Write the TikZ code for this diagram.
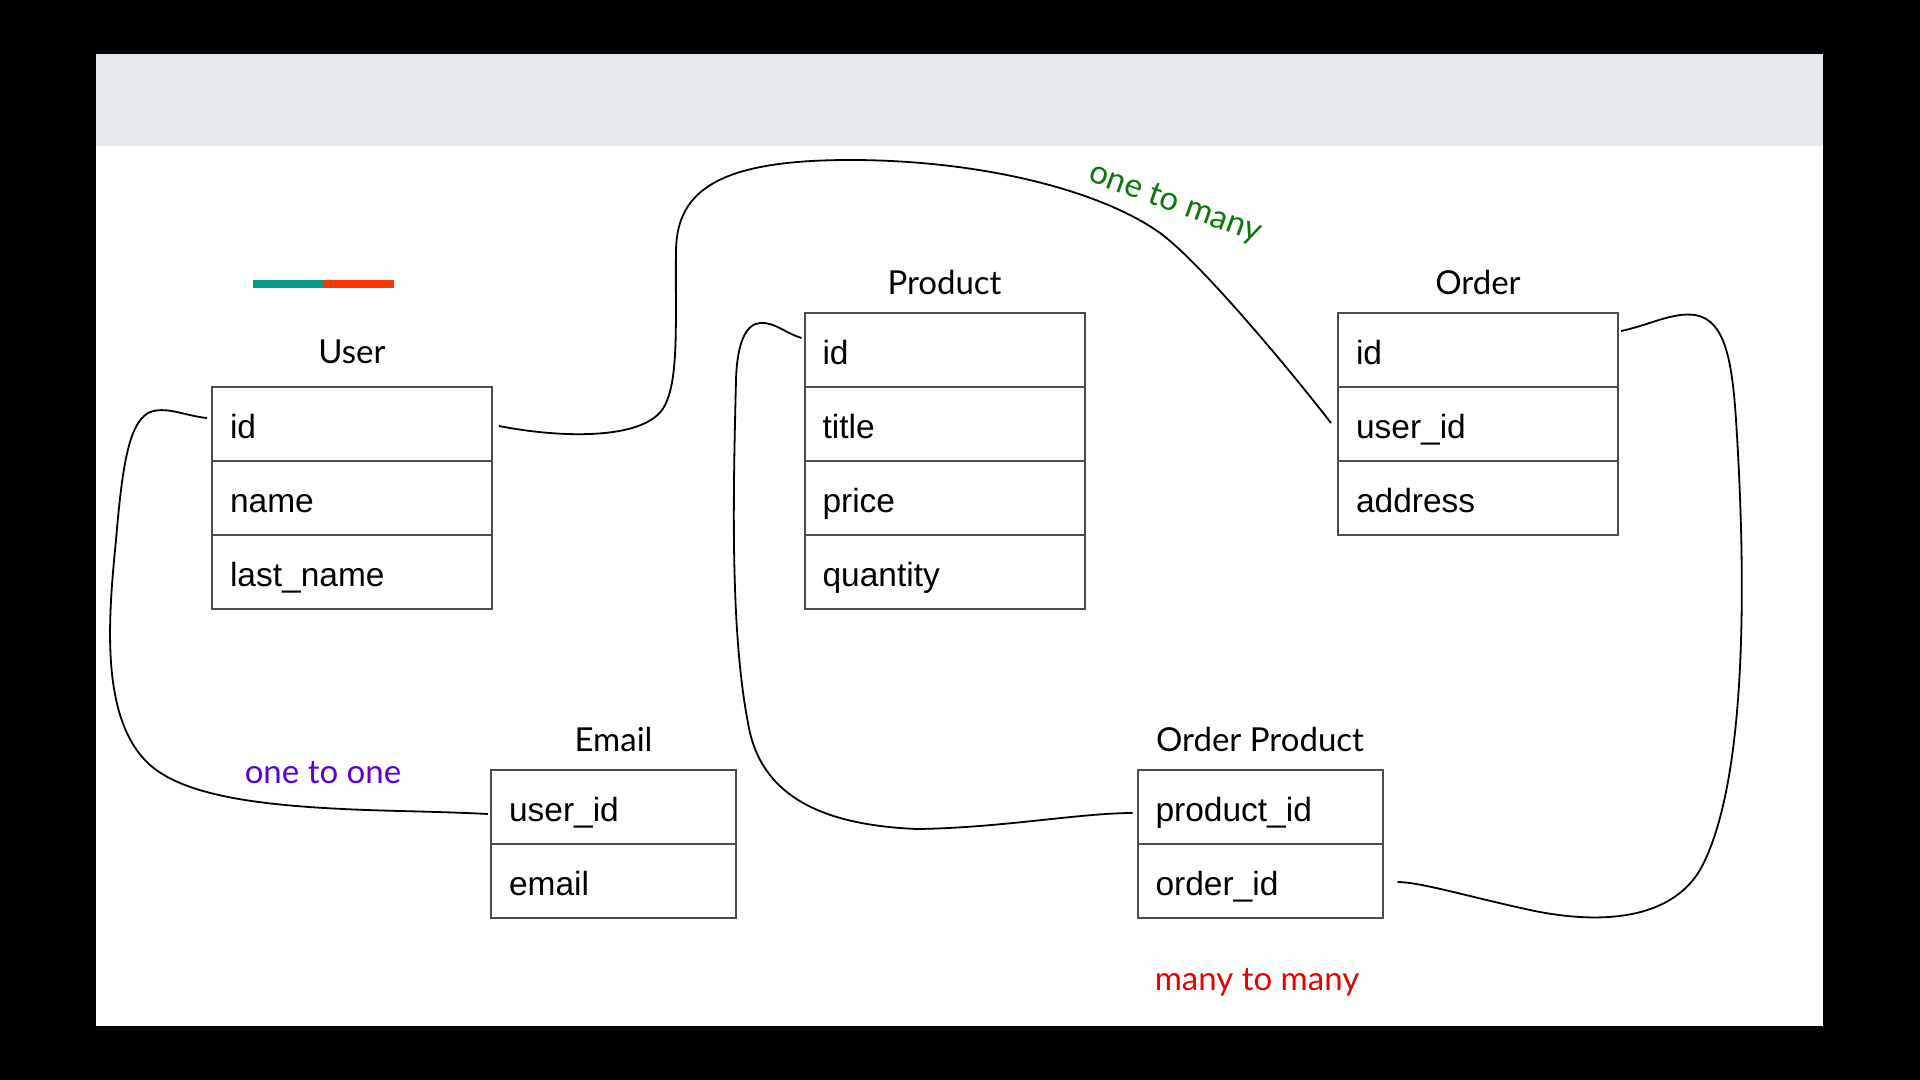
\documentclass[tikz,border=0pt]{standalone}
\usepackage{fontspec}
\setmainfont{Liberation Sans}
\newfontfamily\latofont{Lato}
\usetikzlibrary{positioning}

\definecolor{slidegray}{RGB}{230,233,236}
\definecolor{barteal}{RGB}{0,153,138}
\definecolor{barred}{RGB}{255,51,0}
\definecolor{onecolor}{RGB}{90,0,215}
\definecolor{manycolor}{RGB}{10,120,10}
\definecolor{mmcolor}{RGB}{230,0,0}

\begin{document}
\begin{tikzpicture}[x=0.5pt, y=-0.5pt, node distance = 0pt and 0pt]
        \tikzstyle{field} = [rectangle, draw = black!70, line width = 1pt, outer sep = 0pt, minimum height = 37pt, text width = 122pt, inner xsep = 9pt, inner ysep = 0pt, align = left, text height = 14.5pt, text depth = 0pt, font = \fontsize{16.75pt}{20pt}\selectfont]
        \tikzstyle{narrow} = [field, text width = 104.5pt]
        \tikzstyle{title} = [inner sep = 0pt, font = \latofont\fontsize{16.5pt}{20pt}\selectfont]
        \tikzstyle{connect} = [line width = 0.9pt, black]
        \useasboundingbox (0,0) rectangle (1920,1080);
        \fill[black] (0,0) rectangle (1920,1080);
        \fill[white] (96,54) rectangle (1823,1026);
        \fill[slidegray] (96,54) rectangle (1823,146);
        \draw[barteal, line width = 4pt] (253,284) -- (323,284);
        \draw[barred, line width = 4pt] (323,284) -- (394,284);
        % user
        \node[field] (u1) at (352,424) {id};
        \node[field, below=of u1] (u2) {name};
        \node[field, below=of u2] (u3) {last\_name};
        \node[title, above=11.25pt of u1] (user) {User};
        % product
        \node[field] (p1) at (944.5,350) {id};
        \node[field, below=of p1] (p2) {title};
        \node[field, below=of p2] (p3) {price};
        \node[field, below=of p3] (p4) {quantity};
        \node[title, above=8.75pt of p1] (product) {Product};
        % order
        \node[field] (o1) at (1478,350) {id};
        \node[field, below=of o1] (o2) {user\_id};
        \node[field, below=of o2] (o3) {address};
        \node[title, above=8.75pt of o1] (order) {Order};
        % email
        \node[narrow] (e1) at (613.5,807) {user\_id};
        \node[narrow, below=of e1] (e2) {email};
        \node[title, above=8.75pt of e1] (email) {Email};
        % order product
        \node[narrow] (op1) at (1260,807) {product\_id};
        \node[narrow, below=of op1] (op2) {order\_id};
        \node[title, above=8.75pt of op1] (orderproduct) {Order Product};
        % relation labels
        \node[title, text = onecolor, anchor = base] (onetoone) at (323,783) {one to one};
        \node[title, text = manycolor, rotate = -20] (onetomany) at (1175,204) {one to many};
        \node[title, text = mmcolor, anchor = base] (manytomany) at (1257,990) {many to many};
        % links
        \draw[connect] ([shift={(7,2)}]u1.east) .. controls (560,438) and (640,440) .. (662,410)
          .. controls (680,385) and (675,320) .. (676,250)
          .. controls (677,190) and (720,160) .. (850,160)
          .. controls (980,160) and (1100,190) .. (1160,233)
          .. controls (1200,262) and (1290,370) .. ([shift={(-7,-1)}]o2.west);
        \draw[connect] ([shift={(-5,-6)}]u1.west) .. controls (185,416) and (165,405) .. (148,413)
          .. controls (128,425) and (122,470) .. (116,540)
          .. controls (108,620) and (100,720) .. (150,765)
          .. controls (190,800) and (280,808) .. (400,811)
          .. controls (440,812) and (470,813) .. ([shift={(-3,7)}]e1.west);
        \draw[connect] ([shift={(-3,-12)}]p1.west) .. controls (785,333) and (775,322) .. (760,323)
          .. controls (745,324) and (737,345) .. (736,380)
          .. controls (733,500) and (730,640) .. (750,733)
          .. controls (765,795) and (820,825) .. (917,829)
          .. controls (1000,828) and (1080,813) .. ([shift={(-5,6)}]op1.west);
        \draw[connect] ([shift={(3,-19)}]o1.east) .. controls (1650,325) and (1672,312) .. (1695,315)
          .. controls (1725,320) and (1732,360) .. (1736,420)
          .. controls (1745,560) and (1750,780) .. (1700,870)
          .. controls (1670,920) and (1600,925) .. (1530,910)
          .. controls (1470,897) and (1420,882) .. ([shift={(15,1)}]op2.east);
      \end{tikzpicture}
\end{document}
